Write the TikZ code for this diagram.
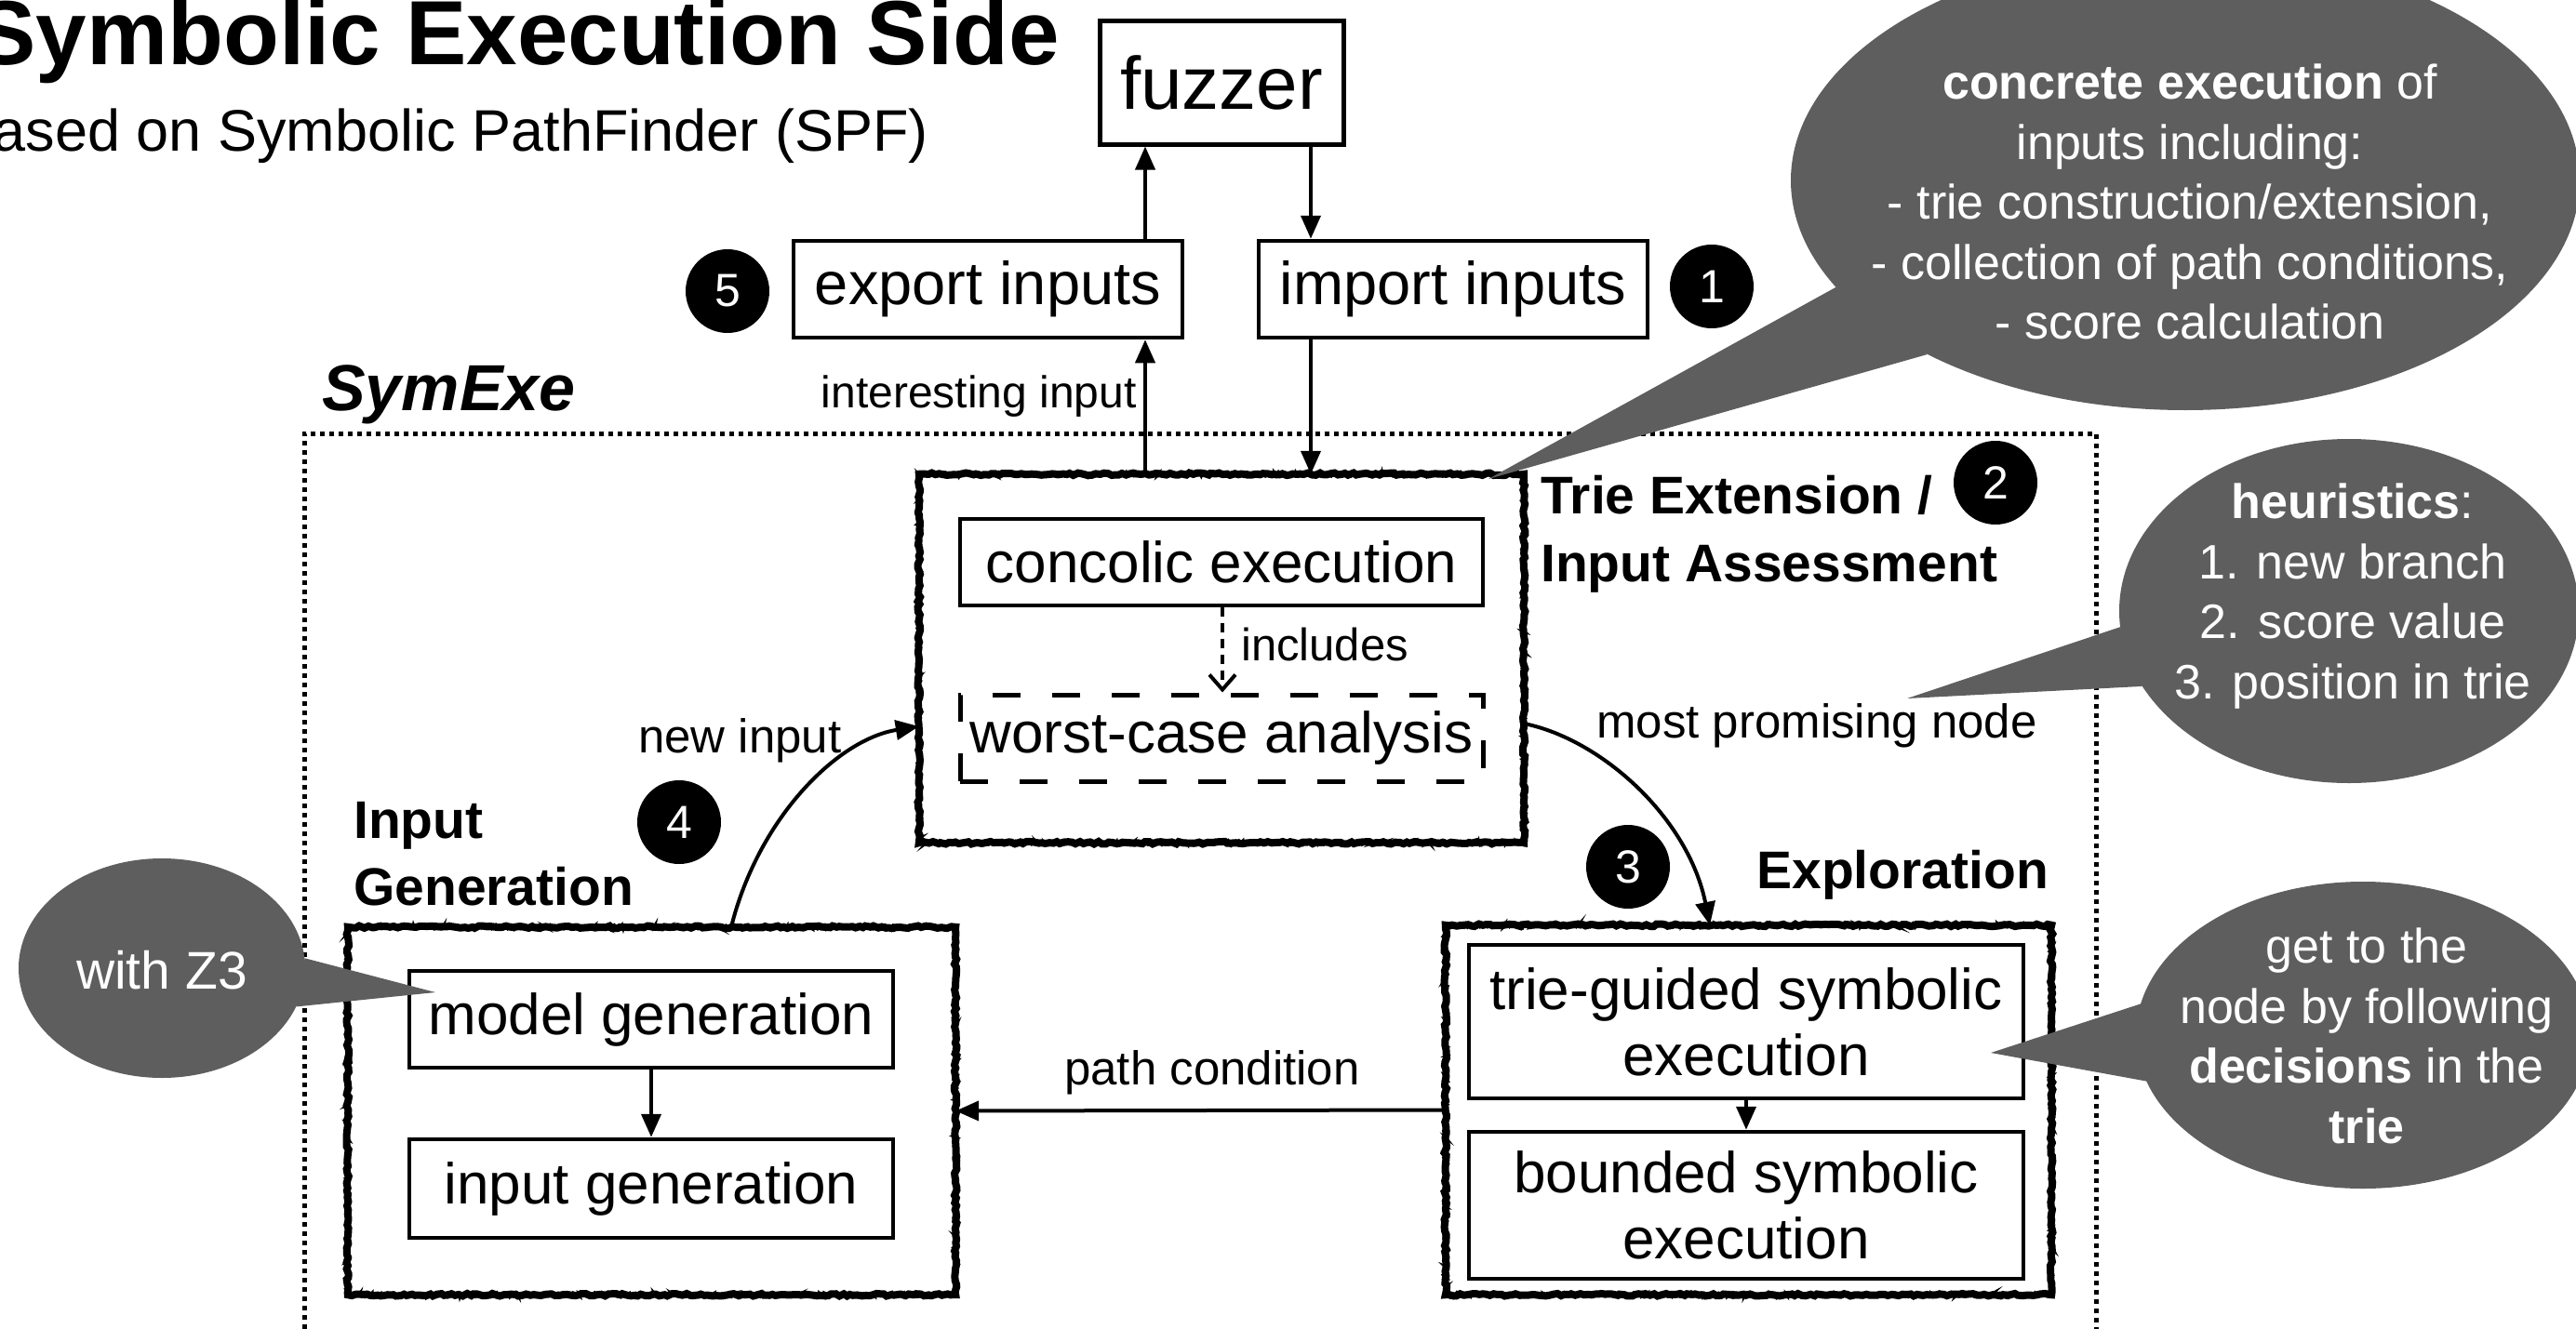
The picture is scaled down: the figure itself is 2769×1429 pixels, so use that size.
\documentclass[tikz,border=0pt]{standalone}
\usepackage{fontspec}
\setmainfont{Liberation Sans}
\usetikzlibrary{arrows.meta,shapes.geometric,decorations.pathmorphing}
\definecolor{bubble}{RGB}{94,94,94}
\newcommand{\mysz}[2]{\fontsize{#1pt}{#2pt}\selectfont}
\begin{document}
\begin{tikzpicture}[x=1pt,y=-1pt,
  plain/.style={draw, line width=4.5pt, inner sep=0pt, align=center, font=\mysz{62}{71}},
  region/.style={inner sep=0pt},
  rougha/.style={line width=8pt, decorate, decoration={random steps, segment length=4pt, amplitude=1.3pt}},
  roughb/.style={line width=3pt, decorate, decoration={random steps, segment length=2.5pt, amplitude=2.4pt}},
  arr/.style={line width=4pt, -{Triangle[length=25pt,width=21pt]}},
  badge/.style={circle, fill=black, text=white, minimum size=90pt, inner sep=0pt, font=\mysz{50}{50}},
  lbl/.style={inner sep=0pt, font=\mysz{51}{60}},
  hdr/.style={inner sep=0pt, font=\mysz{57}{70}\bfseries},
  bub/.style={ellipse, fill=bubble, inner sep=0pt},
  bubtxt/.style={text=white, align=center, font=\mysz{52}{64.5}, inner sep=0pt}
]
\pgfmathsetseed{7}
\fill[white] (0,0) rectangle (2769,1429);
\useasboundingbox (0,0) rectangle (2769,1429);

% titles
\node[anchor=base east, inner sep=0pt, font=\mysz{98}{110}\bfseries] (title) at (1139,70) {Symbolic Execution Side};
\node[anchor=base east, inner sep=0pt, font=\mysz{63}{70}] (subtitle) at (998,162) {based on Symbolic PathFinder (SPF)};

% SymExe frame
\node[draw, line width=5pt, dash pattern=on 5pt off 5pt, minimum width=1926pt, minimum height=1000pt, inner sep=0pt] (symexe) at (1290,966) {};
\node[anchor=base west, inner sep=0pt, font=\mysz{70}{80}\bfseries\itshape] (symlbl) at (346,441) {SymExe};

% top boxes
\node[plain, line width=5pt, minimum width=262pt, minimum height=132pt, font=\mysz{80}{90}] (fuzzer) at (1313,89) {fuzzer};
\node[plain, minimum width=418pt, minimum height=104pt, font=\mysz{65}{75}] (export) at (1062,311) {export inputs};
\node[plain, minimum width=418pt, minimum height=104pt, font=\mysz{65}{75}] (import) at (1562,311) {import inputs};
\node[badge] (b5) at (782,313) {5};
\node[badge] (b1) at (1840,308) {1};

% trie extension region
\node[region, minimum width=650pt, minimum height=396pt] (trie) at (1313,708) {};
\draw[rougha] (trie.north west) rectangle (trie.south east);
\draw[roughb] (trie.north west) rectangle (trie.south east);
\node[plain, minimum width=562pt, minimum height=93pt] (concolic) at (1313,604.5) {concolic execution};
\node[plain, line width=5pt, dash pattern=on 30pt off 34pt, minimum width=562pt, minimum height=93pt] (worst) at (1313,793.5) {worst-case analysis};
\node[hdr, anchor=base west] (triehdr1) at (1656,552) {Trie Extension /};
\node[badge] (b2) at (2145,519) {2};
\node[hdr, anchor=base west] (triehdr2) at (1656,625) {Input Assessment};

% input generation region
\node[region, minimum width=653pt, minimum height=395pt] (ingen) at (700.5,1194.5) {};
\draw[rougha] (ingen.north west) rectangle (ingen.south east);
\draw[roughb] (ingen.north west) rectangle (ingen.south east);
\node[plain, minimum width=520pt, minimum height=104pt] (model) at (700,1096) {model generation};
\node[plain, minimum width=520pt, minimum height=106pt] (inputgen) at (700,1278) {input generation};
\node[hdr, anchor=base west] (inhdr1) at (380,901) {Input};
\node[hdr, anchor=base west] (inhdr2) at (380,973) {Generation};
\node[badge] (b4) at (730,884) {4};

% exploration region
\node[region, minimum width=651pt, minimum height=397pt] (explore) at (1879.5,1193.5) {};
\draw[rougha] (explore.north west) rectangle (explore.south east);
\draw[roughb] (explore.north west) rectangle (explore.south east);
\node[plain, minimum width=596pt, minimum height=165pt] (trieguided) at (1877,1098.5) {trie-guided symbolic\\execution};
\node[plain, minimum width=596pt, minimum height=158pt] (bounded) at (1877,1296) {bounded symbolic\\execution};
\node[hdr, anchor=base east] (exhdr) at (2202,955) {Exploration};
\node[badge] (b3) at (1750,932) {3};

% connector helper coordinates
\coordinate (xout) at (1231,0);
\coordinate (xin) at (1409,0);
\coordinate (xinc) at (1314,0);

% connectors
\draw[arr] (trie.north -| xout) -- (export.south -| xout);
\draw[arr] (export.north -| xout) -- (fuzzer.south -| xout);
\draw[arr] (fuzzer.south -| xin) -- (import.north -| xin);
\draw[arr] (import.south -| xin) -- (trie.north -| xin);
\node[anchor=base east, inner sep=0pt, font=\mysz{48}{56}] (intlbl) at (1222,438) {interesting input};

\draw[line width=4pt, dash pattern=on 10pt off 7pt, -{Straight Barb[length=16pt,width=28pt,line width=4pt]}] (concolic.south -| xinc) -- (worst.north -| xinc);
\node[anchor=base west, inner sep=0pt, font=\mysz{49}{56}] (inclbl) at (1334,710) {includes};

\coordinate (nstart) at (786,0);
\coordinate (nend) at (0,781);
\draw[arr] (ingen.north -| nstart) .. controls (815,880) and (900,795) .. (trie.west |- nend);
\node[lbl, anchor=base west] (newlbl) at (686,809) {new input};

\coordinate (mstart) at (0,778);
\coordinate (mend) at (1838,0);
\draw[arr] (trie.east |- mstart) .. controls (1722,795) and (1815,880) .. (explore.north -| mend);
\node[lbl, anchor=base west] (mplbl) at (1716,793) {most promising node};

\draw[arr] (explore.west) -- (ingen.east);
\node[lbl, anchor=base west] (pclbl) at (1144,1166) {path condition};

\draw[arr] (model.south) -- (inputgen.north);
\draw[arr] (trieguided.south) -- (bounded.north);

% callouts
\node[bub, minimum width=848pt, minimum height=494pt] (c1) at (2349,194) {};
\coordinate (c1tip) at (1600,515);
\fill[bubble] (c1tip) -- (c1.197) -- (c1.214) -- cycle;
\node[bubtxt] (c1t) at (2354,217) {\textbf{concrete execution} of\\inputs including:\\- trie construction/extension,\\- collection of path conditions,\\- score calculation};

\node[bub, minimum width=494pt, minimum height=370pt] (c2) at (2525,657) {};
\coordinate (c2tip) at (2050,751);
\fill[bubble] (c2tip) -- (c2.184) -- (c2.200) -- cycle;
\node[bubtxt] (c2t) at (2529,641) {\textbf{heuristics}:\\1. new branch\\2. score value\\3. position in trie};

\node[bub, minimum width=488pt, minimum height=330pt] (c3) at (2540,1113) {};
\coordinate (c3tip) at (2140,1132);
\fill[bubble] (c3tip) -- (c3.172) -- (c3.192) -- cycle;
\node[bubtxt] (c3t) at (2544,1114) {get to the\\node by following\\\textbf{decisions} in the\\\textbf{trie}};

\node[bub, minimum width=308pt, minimum height=236pt] (c4) at (174,1041) {};
\coordinate (c4tip) at (468,1067);
\fill[bubble] (c4tip) -- (c4.4) -- (c4.344) -- cycle;
\node[bubtxt, font=\mysz{57}{64}, anchor=base] (c4t) at (174,1063) {with Z3};
\end{tikzpicture}
\end{document}
